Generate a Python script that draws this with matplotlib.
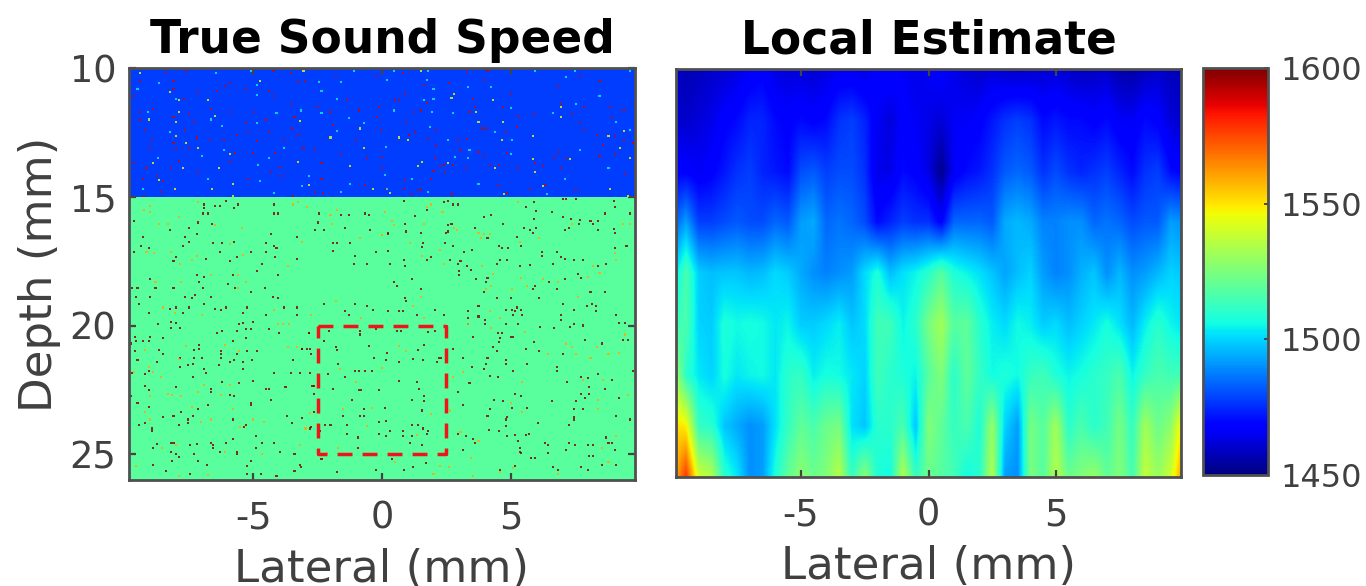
import numpy as np
import matplotlib
matplotlib.use('Agg')
import matplotlib.pyplot as plt

# layered medium, speed in m/s
layer_edges = [10, 15, 26]
layer_speed = [1478, 1519]

# scatterers: (lateral mm, depth mm)
top_red = [(-7.6,10.1),(-8.4,10.2),(-9.4,10.5),(-8.1,10.5),(-8.1,10.8),(-7.15,10.95),(-6.4,10.9),(-6.1,10.7),(-5.9,10.6),(-5.3,10.8),(-4.4,10.9),(-4.2,11.1),(-9.65,11.1),(-7.7,11.2),(-8.9,11.6),(-9.4,11.7),(-9.4,12.0),(-8.1,11.9),(-7.5,11.8),(-7.3,12.1),(-6.65,11.6),(-5.9,11.7),(-5.3,12.15),(-5.0,11.7),(-4.5,12.0),(-3.5,11.4),(-3.4,11.9),(-2.5,11.5),(-2.0,11.7),(-9.2,12.4),(-7.65,12.4),(-7.2,12.7),(-8.1,12.9),(-8.95,12.8),(-9.0,13.1),(-8.0,13.15),(-7.5,13.1),(-6.7,12.8),(-6.15,12.8),(-5.65,12.6),(-5.2,12.5),(-4.85,12.85),(-4.4,12.5),(-3.8,12.8),(-3.5,12.35),(-3.25,12.6),(-3.05,13.1),(-4.15,13.3),(-5.7,13.3),(-5.0,13.3),(-2.6,13.2),(-1.6,13.35),(-0.6,13.5),(-9.65,13.7),(-9.15,13.9),(-8.2,13.9),(-7.9,13.6),(-5.9,13.6),(-7.15,14.05),(-8.75,14.2),(-9.3,14.3),(-8.5,14.4),(-5.2,14.3),(-4.3,14.05),(-3.95,13.85),(-3.9,14.2),(-2.35,13.7),(-2.35,14.3),(-8.6,14.8),(-9.25,14.98),(-0.65,14.55),(-2.6,14.8),(-2.3,14.85),(-3.45,14.98),(-4.25,10.1),(-3.55,10.2),(-3.25,10.5),(-3.0,10.5),(-1.8,10.3),(-1.35,11.25),(-0.9,11.65),(-0.25,10.3),(-0.1,11.5),(-0.2,11.9),(-1.9,12.2),(-1.0,12.8),
    (0.8,10.2),(3.3,10.15),(4.1,10.1),(1.65,10.65),(2.6,10.6),(3.95,10.45),(0.9,11.0),(0.5,11.25),(0.65,11.25),(1.75,11.35),(3.55,11.2),(1.5,11.65),(1.2,11.7),(3.4,11.7),(3.6,11.5),(5.3,11.85),(4.7,11.5),(5.9,11.8),(5.0,11.0),(6.85,10.7),(7.7,10.3),(8.45,10.5),(6.95,11.4),(7.85,11.5),(7.4,11.8),(8.85,11.5),(9.4,11.65),(8.95,11.9),(7.7,12.15),(0.95,12.1),(-0.05,12.4),(1.3,12.5),(2.1,12.4),(1.8,12.75),(1.05,12.6),(2.95,12.8),(3.3,12.75),(3.9,12.35),(4.05,12.35),(4.8,12.5),(5.25,12.3),(2.1,13.0),(3.05,13.2),(3.75,13.25),(3.95,13.4),(4.85,13.3),(0.0,13.45),(2.05,13.5),(6.85,13.25),(7.15,13.5),(6.7,13.5),(7.85,12.4),(8.35,12.6),(9.05,12.65),(9.4,12.8),(8.6,13.0),(8.45,13.4),(9.05,13.35),(9.75,12.9),(2.4,13.75),(2.25,13.8),(2.75,13.75),(3.25,13.9),(4.2,13.75),(4.55,13.75),(5.3,13.9),(5.95,13.7),(6.25,13.8),(6.95,13.9),(0,13.9),(2.0,14.0),(2.45,14.05),(1.9,14.3),(0.9,14.35),(0.15,14.7),(0.85,14.7),(1.4,14.75),(1.5,14.75),(4.5,14.55),(4.85,14.85),(5.75,14.7),(6.35,14.55),(7.55,14.75),(9.45,14.1),(1.15,14.9),(2.7,14.9)]
top_yellow = [(-9.4,10.2),(-8.25,10.95),(-7.9,11.25),(-6.75,11.25),(-7.9,11.7),(-6.5,11.85),(-9.05,12.0),(-8.0,12.1),(-8.0,12.65),(-7.6,12.9),(-7.15,13.1),(-0.7,13.1),(-5.9,13.35),(-8.9,13.7),(-7.75,13.9),(-6.35,13.9),(-8.65,14.35),(-8.05,14.7),(-6.6,14.7),(-5.8,14.5),(-5.8,14.98),(-4.75,10.5),(-3.05,10.1),(-3.2,12.05),(-2.0,12.7),(-1.25,13.8),(-0.85,12.35),(-2.85,14.55),(-0.35,14.7),(-3.25,13.65),
    (1.5,10.1),(2.8,11.0),(2.7,11.15),(4.3,11.25),(3.65,11.7),(3.75,12.1),(4.7,12.1),(5.85,13.55),(5.85,12.65),(1.55,13.65),(1.4,13.8),(2.55,13.7),(4.4,13.9),(5.95,14.05),(6.25,14.6),(4.75,14.9),(0.3,14.85),(9.4,12.45),(8.8,12.65),(9.25,13.1),(7.3,13.55),(6.95,11.5),(6.95,11.9),(1.0,12.8),(0.65,12.7),(4.65,12.8),(9.55,14.98),(9.65,13.5),(8.85,14.7)]
top_cyan = [(-8.65,10.6),(-9.5,10.8),(-8.0,11.2),(-4.85,10.65),(-4.85,11.05),(-2.45,10.55),(-2.35,10.9),(-1.1,10.1),(-5.1,10.1),(-6.45,10.2),(-1.75,11.2),(-1.6,10.55),(-3.15,11.65),(-4.1,11.75),(-2.35,11.75),(-4.85,12.15),(-9.1,11.7),(-8.25,12.5),(-6.65,12.0),(-6.2,12.25),(-1.75,12.45),(-1.3,11.95),(-0.7,12.15),(-8.7,13.5),(-6.15,13.2),(-3.8,13.1),(-7.0,13.4),(-4.8,13.75),(-4.4,13.5),(-2.85,14.2),(-6.75,14.3),(-9.3,14.7),(-4.75,14.4),(-4.2,14.85),(-1.6,14.8),(0.2,14.7),(-3.1,14.6),(-1.25,14.5),
    (0.45,10.1),(1.8,10.1),(5.95,10.1),(4.25,10.75),(0.2,10.45),(1.75,10.45),(2.0,10.8),(3.35,10.75),(2.0,11.2),(1.65,11.25),(1.95,11.7),(2.75,11.75),(0.45,11.65),(5.0,11.55),(6.65,11.75),(7.15,10.35),(7.5,10.1),(8.45,11.1),(7.55,11.4),(9.65,10.1),(1.85,12.3),(4.4,12.5),(2.55,12.8),(5.05,12.8),(0.15,13.05),(3.4,13.2),(3.35,13.5),(2.85,13.45),(5.0,13.35),(7.1,14.3),(8.8,13.9),(9.65,12.4),(9.1,12.1),(0.1,14.15),(1.15,14.3),(3.75,14.5),(6.4,14.9),(1.8,14.8),(7.7,13.2)]
low_dark = [(-6.9,15.3),(-6.9,15.45),(-6.5,15.35),(-6.3,15.35),(-6.05,15.15),(-5.6,15.3),(-5.75,15.45),(-6.95,15.65),(-6.75,15.65),(-4.2,15.3),(-4.2,15.65),(-4.05,15.65),(-6.6,16.05),(-7.15,16.0),(-7.5,16.2),(-8.25,16.3),(-9.65,15.95),(-9.3,16.55),(-7.2,16.45),(-7.65,16.55),(-7.5,16.75),(-7.75,16.9),(-9.35,16.9),(-9.05,17.0),(-9.65,17.15),(-6.55,16.8),(-5.75,16.75),(-6.2,16.8),(-6.3,17.15),(-6.85,17.4),(-8.0,17.35),(-8.1,17.5),(-5.65,17.35),(-5.9,17.5),(-5.1,17.15),(-4.5,17.15),(-4.5,16.8),(-4.2,16.9),(-4.1,17.0),(-4.3,16.45),(-4.65,17.6),(-4.15,17.35),(-3.3,16.55),(-2.45,15.65),(-2.5,16.0),(-2.6,16.3),(-2.25,16.3),(-1.45,16.2),(-0.65,15.65),(-0.5,15.7),(-1.6,15.7),(-1.3,15.7),(-0.45,16.3),(0.25,16.45),(-1.9,16.8),(-1.75,16.8),(-1.25,16.8),(-1.9,17.1),(-1.05,17.3),(-0.25,17.15),(-3.3,17.4),(-1.1,17.6),(-0.6,17.6),
    (0.85,15.15),(2.4,15.2),(2.55,15.15),(2.75,15.3),(2.95,15.3),(1.75,15.5),(1.3,15.75),(4.25,15.7),(3.95,15.8),(5.9,15.2),(5.6,15.4),(7.05,15.1),(7.15,15.1),(7.55,15.1),(9.05,15.4),(9.0,15.15),(6.0,15.55),(7.05,15.8),(6.6,15.6),(8.65,15.65),(9.65,15.65),(5.9,15.85),(7.35,15.85),(7.7,15.9),(8.1,15.95),(8.4,15.95),(0.9,16.05),(2.7,16.05),(4.7,16.05),(2.55,16.1),(3.6,16.2),(5.5,16.2),(5.75,16.3),(6.0,16.2),(7.25,16.2),(7.1,16.3),(7.65,16.05),(8.2,16.05),(0.95,16.35),(0.25,16.4),(1.5,16.4),(2.55,16.35),(2.5,16.4),(5.85,16.4),(9.0,16.25),(9.05,16.4),(8.4,16.3),(4.1,16.6),(5.25,16.55),(1.6,16.8),(2.45,16.8),(2.75,16.9),(1.55,16.95),(0.25,17.1),(4.55,16.9),(4.65,17.0),(4.9,17.0),(3.5,17.05),(3.2,17.15),(5.4,16.9),(6.2,17.15),(6.2,17.3),(6.8,17.15),(6.95,17.35),(7.1,17.4),(7.45,17.45),(7.8,17.45),(9.05,17.0),(9.5,16.9),(2.65,17.45),(2.95,17.6),(3.05,17.5),(1.9,17.35),(1.75,17.45),(0.85,17.45),(0.3,17.6),(0.9,17.7),(3.3,17.7),(4.6,17.45),(4.85,17.45),(3.45,17.85),(3.0,17.9),(3.0,18.05),(4.45,17.6),(5.35,17.7),(5.75,17.65),(6.65,17.6),(8.7,17.6),(7.6,18.0),(7.75,18.15),(8.4,17.7),(1.15,18.2),(0.45,18.3),(0.6,18.45),(1.5,18.6),(3.65,18.2),(4.05,18.3),(4.1,18.15),(6.5,18.3),(7.1,18.2),(5.95,18.45),(5.85,18.6),(6.8,18.6),(8.1,18.7),(8.65,18.7),(0.9,18.95),(3.95,18.7),(4.45,18.95),(5.0,18.95),(6.1,18.95),
    (-6.9,18.1),(-7.2,18.05),(-5.8,18.05),(-4.85,17.9),(-4.05,18.05),(-9.0,18.2),(-7.1,18.3),(-6.0,18.4),(-9.7,18.55),(-9.5,18.55),(-8.8,18.55),(-8.1,18.55),(-6.95,18.55),(-5.7,18.55),(-4.55,18.55),(-5.1,18.7),(-9.55,18.9),(-9.0,18.9),(-7.65,18.9),(-7.25,18.8),(-6.65,18.9),(-7.4,18.95),(-4.25,18.9),(-4.05,18.95),(-9.45,19.15),(-6.9,19.15),(-8.0,19.3),(-8.25,19.35),(-7.5,19.3),(-6.5,19.35),(-6.05,19.3),(-6.25,19.4),(-9.05,19.5),(-7.75,19.5),(-5.4,19.5),(-5.25,19.3),(-4.5,19.6),(-3.8,19.3),(-3.3,19.3),(-3.3,19.6),(-8.2,19.85),(-8.0,19.9),(-8.7,19.95),(-5.4,19.9),(-5.55,19.95),(-5.0,19.85),(-7.85,20.1),(-8.2,20.1),(-6.4,20.3),(-6.2,20.2),(-5.65,20.2),(-5.3,20.15),(-5.1,20.15),(-4.4,20.15),(-4.0,20.3),(-2.85,20.3),(-9.6,20.45),(-9.0,20.45),(-8.5,20.5),(-5.3,20.5),(-9.55,20.6),(-9.3,20.6),(-9.05,20.6),(-9.75,20.7),(-5.8,20.6),(-2.25,20.6),(-7.1,20.75),(-7.1,20.9),(-7.3,20.95),(-8.65,20.95),(-9.6,21.0),(-6.25,21.0),(-5.25,21.0),(-4.85,21.0),(-6.25,21.1),(-5.65,21.1),(-8.5,21.1),(-3.1,20.9),(-2.8,20.9),(-6.25,21.25),(-7.3,21.25),(-7.0,21.25),(-7.85,21.25),(-3.45,21.35),(-8.75,21.4),(-9.5,21.35),(-5.9,21.4),(-5.75,21.35),(-5.4,21.4),(-5.05,21.35),(-7.55,21.55),(-7.35,21.5),(-7.85,21.6),(-6.35,21.55),(-9.05,21.75),(-6.9,21.7),(-6.85,21.85),(-9.7,21.85),(-9.2,21.9),(-5.4,21.7),(-4.2,21.85),(-3.55,21.85),(-3.2,21.85),(-7.35,22.0),(-6.2,22.2),(-5.55,22.25),(-5.0,22.15),(-9.2,22.35),(-8.0,22.4),(-9.05,22.5),(-6.65,22.45),(-6.65,22.6),(-4.5,22.45),(-4.4,22.45),(-3.75,22.4),(-2.7,22.35),(-9.75,22.75),(-5.9,22.7),(-5.75,22.75),(-4.3,22.9),(-9.5,23.0),(-6.75,23.1),(-5.1,23.0),(-5.1,23.1),(-9.05,23.15),(-7.15,23.25),(-7.8,23.35),(-8.5,23.55),(-8.1,23.5),(-7.35,23.5),(-3.7,23.5),(-2.65,23.35),(-7.55,23.65),(-7.55,23.8),(-5.8,23.65),(-9.45,23.85),(-9.2,23.8),(-8.95,24.0),(-8.95,24.1),(-7.9,23.85),(-5.3,23.85),(-5.35,23.95),(-3.5,23.8),(-2.75,23.95),(-8.75,24.6),(-8.2,24.55),(-8.1,24.55),(-7.45,24.65),(-7.2,24.6),(-6.65,24.55),(-6.05,24.55),(-5.8,24.4),(-4.9,24.3),(-4.65,24.55),(-4.2,24.55),(-6.55,24.65),(-8.9,24.75),(-8.2,24.9),(-8.0,25.0),(-7.9,25.1),(-7.3,25.0),(-6.55,24.75),(-6.3,24.9),(-5.65,24.9),(-5.65,25.0),(-4.9,24.75),(-3.95,24.9),(-3.4,25.0),(-8.15,25.25),(-7.15,25.25),(-5.1,25.25),(-8.9,25.4),(-6.8,25.4),(-5.25,25.45),(-8.4,25.65),(-7.45,25.75),(-5.25,25.75),(-3.4,25.65),(-3.2,25.4),(-4.7,25.75),(-4.1,25.85),
    (-2.25,19.15),(-1.45,19.45),(-1.3,19.6),(-1.05,19.15),(-0.6,19.25),(-0.35,19.4),(0.25,19.45),(0.65,19.45),(0.8,19.45),(0.95,19.05),(1.35,19.6),(2.05,19.4),(2.4,19.6),(3.35,19.45),(3.35,19.7),(3.75,19.25),(3.75,19.65),(4.0,19.8),(4.8,19.4),(5.05,19.4),(5.25,19.3),(5.15,19.45),(5.4,19.4),(5.45,19.6),(5.1,19.6),(7.05,19.15),(7.45,19.4),(6.95,19.6),(6.95,19.8),(7.95,19.25),(8.15,19.15),(8.3,19.25),(8.3,19.45),(9.1,19.6),(9.45,19.9),(9.2,19.9),(7.8,20.0),(7.45,19.95),(7.3,20.05),(6.7,20.1),(6.15,20.05),(5.3,19.95),(4.8,19.95),(4.0,19.95),(3.35,19.95),(1.8,20.25),(2.05,20.2),(0.75,20.2),(0.6,20.2),(-0.25,20.15),(-0.85,20.2),(-0.85,20.35),(-2.05,20.2),(-2.85,20.3),(4.5,20.3),(4.65,20.3),(4.6,20.5),(3.55,20.45),(5.0,20.45),(5.1,20.45),(5.9,20.65),(4.55,20.65),(8.55,20.7),(9.55,20.55),(9.35,20.55),(7.9,20.55),(4.3,20.85),(5.6,20.9),(6.1,21.0),(7.05,21.1),(4.45,21.0),(-1.75,20.95),(-1.8,20.85),(-3.1,20.9),(-2.9,20.9),(-2.75,21.1),(-0.5,20.8),(1.4,20.95),(1.65,20.75),(2.75,20.9),(1.2,21.3),(1.6,21.35),(2.2,21.25),(2.3,21.25),(2.15,21.4),(0.2,21.05),(0.65,21.4),(-1.7,21.5),(-0.3,21.25),(0.15,21.35),(3.15,21.25),(4.1,21.25),(4.8,21.35),(4.8,21.5),(4.05,21.5),(5.65,21.5),(3.5,21.6),(6.8,21.6),(6.8,21.75),(3.95,21.7),(5.1,21.75),(9.75,21.75),(-1.05,21.75),(-0.9,21.75),(-0.65,21.75),(-0.4,21.75),(-2.8,21.85),(-2.1,21.9),(-1.45,22.0),(4.2,21.95),(4.5,22.0),(8.4,21.9),(7.75,22.0),(8.95,22.1),(8.0,22.05),(1.35,22.2),(0.65,22.15),(7.2,22.2),(3.4,22.25),(-2.65,22.35),(-1.9,22.45),(-0.9,22.5),(-0.8,22.5),(-0.1,22.5),(1.45,22.45),(2.95,22.6),(8.05,22.4),(8.65,22.45),(5.15,22.65),(-2.65,22.65),(8.05,22.65),(1.15,22.9),(1.65,22.75),(1.65,22.95),(-1.15,22.9),(4.35,22.9),(6.6,22.95),(5.4,22.75),(4.7,22.95),(7.75,22.65),(7.9,22.8),(7.55,22.95),(9.2,22.8),(3.15,23.1),(5.05,23.2),(5.65,23.2),(4.2,23.25),(7.45,23.25),(7.8,23.25),(-0.7,23.25),(0.1,23.2),(1.55,23.3),(-1.5,23.5),(-0.85,23.5),(-0.7,23.5),(4.85,23.55),(4.8,23.65),(4.1,23.5),(7.45,23.55),(7.45,23.65),(9.1,23.5),(9.65,23.65),(-3.1,23.6),(-0.1,23.75),(0.15,23.7),(-2.2,23.85),(-2.0,23.85),(-1.35,23.85),(-2.5,23.85),(-2.8,24.0),(1.15,23.85),(1.4,23.85),(1.6,24.0),(6.05,23.8),(4.8,23.9),(7.25,23.85),(4.15,24.05),(4.55,24.1),(1.75,24.2),(1.8,24.1),(0.8,24.1),(0.3,24.1),(4.85,24.3),(5.15,24.25),(5.6,24.25),(5.7,24.2),(-2.4,24.1),(-1.35,24.2),(0.15,24.3),(-0.1,24.2),(0.8,24.3),(1.15,24.3),(3.55,24.4),(2.95,24.2),(3.25,24.3),(8.7,24.35),(8.8,24.55),(-0.95,24.35),(1.1,24.55),(3.6,24.55),(5.3,24.5),(6.35,24.55),(7.25,24.55),(8.95,24.55),(7.5,24.65),(8.0,24.65),(8.2,24.65),(1.55,24.65),(5.35,24.75),(6.45,24.65),(-0.95,24.75),(3.15,24.85),(5.35,24.9),(5.4,24.95),(6.45,24.95),(7.15,24.85),(9.05,24.85),(8.05,25.05),(8.2,25.05),(5.8,25.15),(5.95,25.15),(0.4,25.2),(1.2,25.5),(-2.35,25.2),(-3.15,25.5),(4.6,25.6),(5.15,25.45),(6.65,25.5),(6.85,25.6),(7.75,25.5),(8.0,25.6),(8.55,25.4),(9.1,25.4),(-1.75,25.7),(-0.25,25.6),(0.85,25.6),(1.7,25.35)]
low_orange = [(-9.25,15.5),(-9.0,15.35),(-9.0,15.6),(-8.65,16.05),(-8.3,16.05),(-7.15,15.2),(-7.9,15.8),(-6.5,16.1),(-5.45,16.2),(-3.25,15.2),(-3.45,15.3),(-2.9,15.4),(-1.75,15.5),(-2.0,15.7),(-1.95,16.05),(-0.85,16.6),(0.0,16.5),(-8.2,17.15),(-8.85,17.2),(-9.15,17.15),(-5.4,17.25),(-5.9,16.85),(-3.1,16.75),(-7.2,17.3),(-7.85,17.6),(-7.4,17.45),(-3.65,17.7),
    (5.3,15.2),(1.75,15.4),(1.9,15.3),(0.1,15.6),(0.4,15.95),(0.45,16.1),(2.35,15.6),(1.65,16.05),(2.8,16.2),(2.9,16.3),(3.75,16.4),(3.95,16.45),(4.2,16.45),(3.85,16.6),(6.1,16.6),(1.1,16.8),(0.0,16.5),(2.25,17.05),(5.35,16.75),(1.55,17.3),(2.4,17.6),(9.1,17.45),(9.05,17.2),(7.4,16.05),(9.35,16.05),(9.65,16.05),(8.2,17.7),(8.45,17.95),(4.3,18.0),(5.4,18.15),(6.25,18.2),(6.85,18.3),(8.0,18.1),(5.65,18.45),(4.05,18.6),(4.25,18.45),(5.05,18.6),(7.6,18.9),(1.5,18.9),(3.9,17.7),
    (-7.8,18.3),(-8.8,18.3),(-6.65,18.05),(-5.6,18.55),(-5.6,18.05),(-5.3,18.3),(-8.5,19.3),(-8.05,19.5),(-7.0,19.6),(-4.2,19.4),(-4.05,19.95),(-3.85,19.95),(-3.6,19.95),(-6.1,20.75),(-7.6,20.8),(-9.2,20.95),(-5.55,21.0),(-3.3,20.85),(-3.65,20.85),(-7.9,21.3),(-9.05,21.6),(-8.9,21.8),(-9.65,21.8),(-8.6,22.0),(-6.9,22.3),(-5.9,22.3),(-7.15,22.6),(-8.3,22.65),(-8.15,22.7),(-7.8,22.75),(-6.25,22.7),(-9.0,22.75),(-7.4,23.15),(-5.8,23.25),(-9.2,23.35),(-6.65,23.65),(-5.0,23.65),(-4.6,23.75),(-5.5,23.95),(-7.05,23.75),(-9.0,23.65),(-2.95,24.0),(-8.55,24.75),(-8.0,24.65),(-6.1,24.9),(-3.2,24.65),(-4.65,25.0),(-9.55,25.45),(-6.75,25.8),(-7.9,25.85),
    (-2.75,19.6),(-1.8,19.05),(-0.8,19.7),(1.2,19.25),(1.65,19.7),(3.35,19.95),(4.2,19.45),(4.6,19.7),(4.25,20.1),(5.55,20.25),(7.15,20.7),(7.4,20.85),(7.55,21.1),(6.45,21.1),(8.1,21.25),(8.8,21.1),(9.2,21.05),(8.35,20.85),(9.45,20.35),(0,21.65),(-1.65,21.7),(-1.0,22.2),(0.65,20.8),(0.95,21.0),(2.75,22.0),(3.15,21.8),(5.45,22.2),(7.8,22.1),(8.6,22.1),(9.55,22.7),(8.4,22.9),(5.0,23.0),(5.45,23.35),(8.4,23.25),(-1.5,23.25),(-0.4,23.2),(-2.8,23.4),(1.9,23.45),(2.65,23.3),(-3.0,24.0),(-0.6,23.9),(3.05,24.15),(1.35,24.25),(-1.7,24.75),(-2.15,24.95),(8.55,24.75),(9.1,24.3),(3.75,24.5),(0.5,25.3),(2.25,25.45),(2.6,25.5),(3.45,25.15),(2.0,25.75),(3.55,25.85),(4.6,25.7),(5.1,25.55),(6.85,25.75),(8.8,25.3)]

# dashed box around the inclusion region
box_lat = [-2.5, 2.5, 2.5, -2.5, -2.5]
box_depth = [20, 20, 25, 25, 20]

# local estimate, one row per depth, columns every 0.5 mm from -10 to 10
est_lat = [-10+0.5*i for i in range(41)]
est_depth = [10, 12, 14, 16, 18, 20, 22, 24, 26]
est_10 = [1460,1457,1458,1460,1461,1463,1466,1468,1463,1462,1462,1461,1463,1465,1465,1463,1468,1470,1466,1464,1466,1468,1464,1462,1460,1462,1460,1459,1460,1461,1462,1460,1458,1459,1460,1456,1455,1458,1460,1458,1457]
est_12 = [1462,1460,1462,1464,1468,1470,1474,1474,1470,1468,1470,1468,1470,1476,1478,1474,1466,1462,1468,1466,1464,1462,1466,1466,1468,1472,1476,1478,1476,1470,1472,1470,1470,1468,1470,1466,1466,1470,1468,1462,1460]
est_14 = [1468,1468,1466,1468,1472,1476,1478,1474,1472,1470,1480,1482,1478,1480,1480,1476,1464,1464,1470,1468,1463,1452,1466,1470,1472,1476,1482,1484,1482,1476,1480,1476,1474,1476,1478,1474,1470,1476,1478,1470,1468]
est_16 = [1482,1492,1478,1478,1480,1482,1480,1480,1484,1482,1492,1494,1484,1486,1484,1480,1470,1474,1478,1476,1476,1468,1484,1484,1484,1482,1494,1496,1494,1488,1488,1490,1490,1484,1486,1484,1480,1482,1482,1492,1490]
est_18 = [1500,1516,1499,1497,1498,1498,1496,1497,1501,1499,1494,1490,1488,1490,1492,1501,1508,1497,1502,1505,1510,1518,1508,1505,1502,1498,1493,1497,1500,1492,1488,1490,1495,1498,1490,1496,1490,1492,1496,1500,1498]
est_20 = [1512,1516,1500,1499,1508,1506,1507,1506,1503,1505,1499,1499,1501,1504,1498,1501,1514,1514,1505,1510,1524,1532,1518,1520,1510,1504,1501,1506,1504,1499,1501,1497,1500,1503,1507,1502,1496,1504,1510,1505,1502]
est_22 = [1536,1510,1503,1500,1507,1503,1505,1506,1503,1510,1512,1504,1507,1506,1503,1500,1514,1510,1508,1505,1518,1526,1510,1520,1512,1506,1508,1506,1512,1514,1508,1505,1507,1510,1512,1516,1505,1512,1516,1514,1514]
est_24 = [1552,1548,1512,1510,1498,1494,1490,1492,1502,1512,1520,1516,1522,1524,1502,1498,1510,1510,1516,1498,1526,1520,1512,1516,1508,1530,1500,1492,1524,1518,1532,1510,1516,1510,1514,1524,1512,1532,1522,1528,1552]
est_26 = [1555,1578,1540,1535,1510,1503,1490,1492,1508,1520,1528,1522,1526,1536,1512,1528,1508,1506,1535,1512,1522,1518,1515,1506,1510,1535,1492,1490,1525,1518,1535,1522,1526,1530,1520,1526,1515,1538,1530,1540,1565]

cbar_ticks = [1450, 1500, 1550, 1600]
lat_ticks = [-5, 0, 5]
depth_ticks = [10, 15, 20, 25]

W, H = 1366, 586
gray = '#404040'
plt.rcParams['font.family'] = 'DejaVu Sans'
plt.rcParams['axes.unicode_minus'] = False
plt.rcParams['axes.linewidth'] = 2.0
plt.rcParams['axes.edgecolor'] = '#505050'

fig = plt.figure(figsize=(W/100, H/100), dpi=100)

def box(x0, y0, x1, y1):
    return [x0/W, 1-y1/H, (x1-x0)/W, (y1-y0)/H]

ax1 = fig.add_axes(box(129, 68, 635, 480))
ax2 = fig.add_axes(box(676, 69, 1181, 477))
cax = fig.add_axes(box(1203, 68, 1268, 475))
vmin, vmax = 1450, 1600

# left panel
ax1.pcolormesh([-9.83, 9.83], layer_edges, np.array(layer_speed)[:, None], cmap='jet', vmin=vmin, vmax=vmax)
series = [(top_red, 1590), (top_yellow, 1545), (top_cyan, 1505), (low_dark, 1600), (low_orange, 1560)]
for pts, speed in series:
    pts = np.array(pts)
    ax1.scatter(pts[:, 0], pts[:, 1], c=np.full(len(pts), speed), cmap='jet', vmin=vmin, vmax=vmax,
                s=2.2, marker='s', linewidths=0, alpha=0.8, zorder=2)
ax1.plot(box_lat, box_depth, color='#ee1418', lw=2.5, dashes=(4.3, 2.9), zorder=3)
ax1.set_xlim(-9.83, 9.83)
ax1.set_ylim(26, 10)
ax1.set_yticks(depth_ticks)
ax1.set_ylabel('Depth (mm)', fontsize=32.5, color=gray, labelpad=6)

# right panel
est = np.array([est_10, est_12, est_14, est_16, est_18, est_20, est_22, est_24, est_26])
extent = (est_lat[0]-0.25, est_lat[-1]+0.25, est_depth[-1]+1, est_depth[0]-1)
im = ax2.imshow(est, extent=extent, aspect='auto', interpolation='bilinear', cmap='jet', vmin=vmin, vmax=vmax)
ax2.set_xlim(-9.9, 9.9)
ax2.set_ylim(26, 10)
ax2.set_yticks([])

for ax, title in [(ax1, 'True Sound Speed'), (ax2, 'Local Estimate')]:
    ax.set_xticks(lat_ticks)
    ax.tick_params(direction='in', length=5, width=1.6, color='#444444', labelcolor=gray,
                   labelsize=26.5, top=True, right=True, pad=14)
    ax.tick_params(axis='y', pad=9)
    ax.set_xlabel('Lateral (mm)', fontsize=32.5, color=gray, labelpad=8)
    ax.set_title(title, fontsize=32.8, fontweight='bold', color='black', pad=11)

# colorbar
cb = fig.colorbar(im, cax=cax)
cb.set_ticks(cbar_ticks)
cb.outline.set_edgecolor('#505050')
cb.outline.set_linewidth(2.0)
cax.tick_params(direction='in', length=3, width=1.2, color='#333333', labelcolor=gray, labelsize=23, pad=9)

fig.savefig('out.png', dpi=100)
